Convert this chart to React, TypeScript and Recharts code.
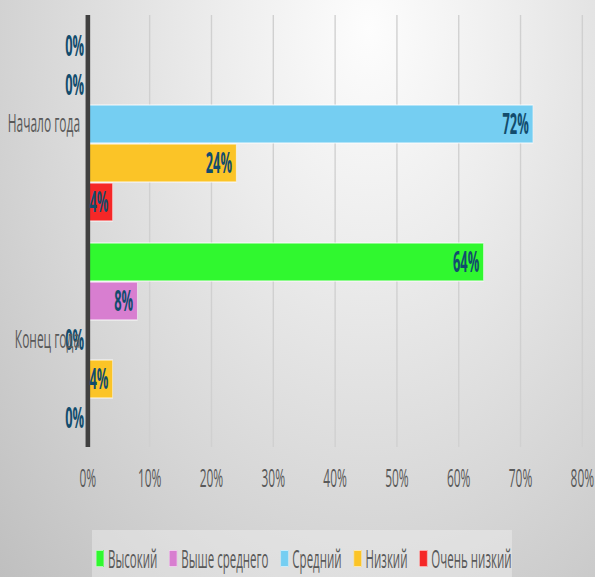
import React from 'react';
import { BarChart, Bar, XAxis, YAxis, CartesianGrid, Legend, LabelList } from 'recharts';

const categories = ['Начало года', 'Конец года'];
const seriesNames = ['Высокий', 'Выше среднего', 'Средний', 'Низкий', 'Очень низкий'];
const seriesKeys = ['high', 'aboveAvg', 'mid', 'low', 'veryLow'];
const seriesColors = ['#30f82f', '#d87ed0', '#75cef2', '#fbc427', '#f52727'];
const highValues = [0, 64];
const aboveAvgValues = [0, 8];
const midValues = [72, 0];
const lowValues = [24, 4];
const veryLowValues = [4, 0];
const xTicks = [0, 10, 20, 30, 40, 50, 60, 70, 80];

const data = categories.map((name, i) => ({
  name,
  high: highValues[i],
  aboveAvg: aboveAvgValues[i],
  mid: midValues[i],
  low: lowValues[i],
  veryLow: veryLowValues[i],
}));

const K = 0.46;
const W = Math.round(595 / K);
const FONT = '"Open Sans", "Noto Sans", sans-serif';

const LegendContent = () => (
  <div
    style={{
      display: 'flex',
      alignItems: 'center',
      height: '100%',
      paddingLeft: 9,
      boxSizing: 'border-box',
      fontFamily: FONT,
      fontSize: 25,
      color: '#595959',
      whiteSpace: 'nowrap',
    }}
  >
    {seriesNames.map((n, i) => (
      <div key={n} style={{ display: 'flex', alignItems: 'center', marginRight: 26 }}>
        <div
          style={{
            width: 15,
            height: 15,
            background: seriesColors[i],
            border: '1px solid rgba(255,255,255,0.6)',
            marginRight: 9,
          }}
        />
        <span>{n}</span>
      </div>
    ))}
  </div>
);

export default function App() {
  return (
    <div
      style={{
        position: 'absolute',
        left: 0,
        top: 0,
        width: 595,
        height: 577,
        overflow: 'hidden',
        background:
          'radial-gradient(ellipse at 62% 5%, #fdfdfd 0%, #ececec 30%, #d6d6d6 65%, #bfbfbf 100%)',
      }}
    >
      <div style={{ width: W, height: 577, transform: `scaleX(${K})`, transformOrigin: '0 0' }}>
        <BarChart
          width={W}
          height={577}
          data={data}
          layout="vertical"
          margin={{ top: 15, right: W - 1266, left: 0, bottom: 90 }}
          barCategoryGap="5.5%"
          barGap={1}
          style={{ fontFamily: FONT }}
        >
          <CartesianGrid horizontal={false} stroke="#d0d0d0" strokeWidth={3} />
          <XAxis
            type="number"
            domain={[0, 80]}
            ticks={xTicks}
            tickFormatter={(v) => `${v}%`}
            axisLine={false}
            tickLine={false}
            tickSize={0}
            tickMargin={22}
            height={40}
            tick={{ fill: '#595959', fontSize: 26 }}
            interval={0}
          />
          {seriesKeys.map((k, i) => (
            <Bar
              key={k}
              dataKey={k}
              name={seriesNames[i]}
              fill={seriesColors[i]}
              stroke="rgba(255,255,255,0.6)"
              strokeWidth={1.5}
              minPointSize={1}
              isAnimationActive={false}
            >
              <LabelList
                dataKey={k}
                position="insideRight"
                offset={9}
                formatter={(v: any) => `${v}%`}
                fill="#124c6d"
                fontSize={28}
                fontWeight="bold"
              />
            </Bar>
          ))}
          <YAxis
            type="category"
            dataKey="name"
            width={191}
            axisLine={{ stroke: '#404040', strokeWidth: 10 }}
            tickLine={false}
            tickMargin={11}
            tick={{ fill: '#595959', fontSize: 26 }}
          />
          <Legend
            layout="horizontal"
            verticalAlign="middle"
            align="center"
            content={LegendContent}
            wrapperStyle={{
              top: 530,
              left: 200,
              width: 913,
              height: 56,
              background: 'rgba(240,240,240,0.45)',
            }}
          />
        </BarChart>
      </div>
    </div>
  );
}
